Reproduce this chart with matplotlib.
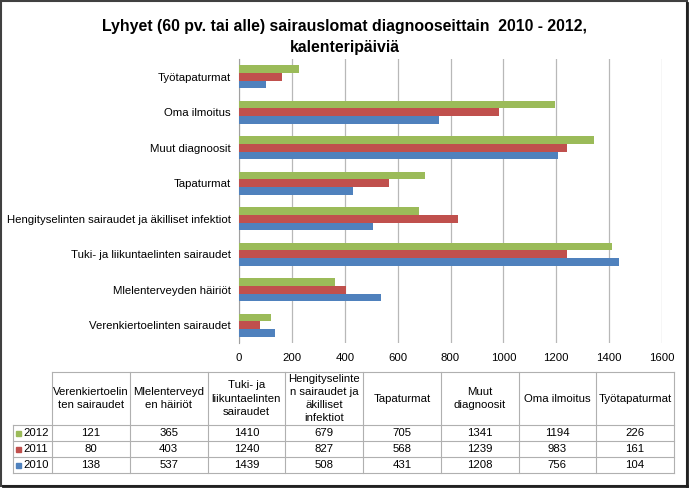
import matplotlib
matplotlib.use("Agg")
import matplotlib.pyplot as plt
from matplotlib.lines import Line2D
from matplotlib.patches import Rectangle

plt.rcParams['font.family'] = ['Liberation Sans', 'DejaVu Sans']

# data
categories = ["Verenkiertoelinten sairaudet", "Mlelenterveyden häiriöt",
              "Tuki- ja liikuntaelinten sairaudet",
              "Hengityselinten sairaudet ja äkilliset infektiot",
              "Tapaturmat", "Muut diagnoosit", "Oma ilmoitus", "Työtapaturmat"]
table_headers = ["Verenkiertoelin\nten sairaudet", "Mlelenterveyd\nen häiriöt",
                 "Tuki- ja\nliikuntaelinten\nsairaudet",
                 "Hengityselinte\nn sairaudet ja\näkilliset\ninfektiot",
                 "Tapaturmat", "Muut\ndiagnoosit", "Oma ilmoitus", "Työtapaturmat"]
years = ["2012", "2011", "2010"]
v2012 = [121, 365, 1410, 679, 705, 1341, 1194, 226]
v2011 = [80, 403, 1240, 827, 568, 1239, 983, 161]
v2010 = [138, 537, 1439, 508, 431, 1208, 756, 104]
xticks = [0, 200, 400, 600, 800, 1000, 1200, 1400, 1600]

colors = {"2012": "#9BBB59", "2011": "#C0504D", "2010": "#4F81BD"}
series = {"2012": v2012, "2011": v2011, "2010": v2010}

W, H = 689, 488
fig = plt.figure(figsize=(W / 100, H / 100), dpi=100)

def fx(px):
    return px / W

def fy(py):
    return 1 - py / H

FS = 8.2

ax = fig.add_axes([fx(239), fy(343), fx(662) - fx(239), fy(59) - fy(343)])
bh = 0.22
ypos = list(range(len(categories)))
offsets = {"2010": -bh, "2011": 0.0, "2012": bh}
for yr in ["2010", "2011", "2012"]:
    ax.barh([y + offsets[yr] for y in ypos], series[yr], height=bh,
            color=colors[yr], zorder=3)

ax.set_xlim(0, 1600)
ax.set_ylim(-0.5, len(categories) - 0.5)
ax.set_xticks(xticks)
ax.set_xticklabels([str(t) for t in xticks], fontsize=FS)
ax.set_yticks(ypos)
ax.set_yticklabels(categories, fontsize=FS)
ax.tick_params(length=0, pad=6)
ax.tick_params(axis='x', pad=7)
ax.grid(axis='x', color='#b8b8b8', linewidth=0.9, zorder=0)
for s in ['top', 'right', 'bottom']:
    ax.spines[s].set_visible(False)
ax.spines['left'].set_color('#a0a0a0')

fig.text(0.5, fy(37), "Lyhyet (60 pv. tai alle) sairauslomat diagnooseittain  2010 - 2012,\nkalenteripäiviä",
         ha='center', va='center', fontsize=11.4, fontweight='bold', linespacing=1.55)

# data table below the chart
x0, x1 = 52, 674
lab_x0 = 13
ncol = len(table_headers)
cw = (x1 - x0) / ncol
row_y = [372, 425, 441, 457, 473]
lc = '#b0b0b0'

def hline(xa, xb, y):
    fig.add_artist(Line2D([fx(xa), fx(xb)], [fy(y), fy(y)], color=lc, linewidth=0.8))

def vline(x, ya, yb):
    fig.add_artist(Line2D([fx(x), fx(x)], [fy(ya), fy(yb)], color=lc, linewidth=0.8))

hline(x0, x1, row_y[0])
for y in row_y[1:]:
    hline(lab_x0, x1, y)
for i in range(ncol + 1):
    vline(x0 + i * cw, row_y[0], row_y[-1])
vline(lab_x0, row_y[1], row_y[-1])

for i, h in enumerate(table_headers):
    fig.text(fx(x0 + (i + 0.5) * cw), fy((row_y[0] + row_y[1]) / 2), h,
             ha='center', va='center', fontsize=FS, linespacing=1.38)

for r, yr in enumerate(years):
    yc = fy((row_y[r + 1] + row_y[r + 2]) / 2)
    fig.add_artist(Rectangle((fx(16), yc - (fy(0) - fy(5)) / 2), fx(5), fy(0) - fy(5),
                             color=colors[yr]))
    fig.text(fx(23), yc, yr, ha='left', va='center', fontsize=FS)
    for i, v in enumerate(series[yr]):
        fig.text(fx(x0 + (i + 0.5) * cw), yc, str(v), ha='center', va='center', fontsize=FS)

# outer frame
fig.add_artist(Rectangle((fx(1), fy(486)), fx(686), fy(1) - fy(486), fill=False,
                         edgecolor='#404040', linewidth=1.5))
fig.add_artist(Line2D([fx(687), fx(687)], [fy(3), fy(486)], color='#202020', linewidth=2))
fig.add_artist(Line2D([fx(3), fx(687)], [fy(486), fy(486)], color='#202020', linewidth=2))

fig.savefig("out.png", dpi=100)
